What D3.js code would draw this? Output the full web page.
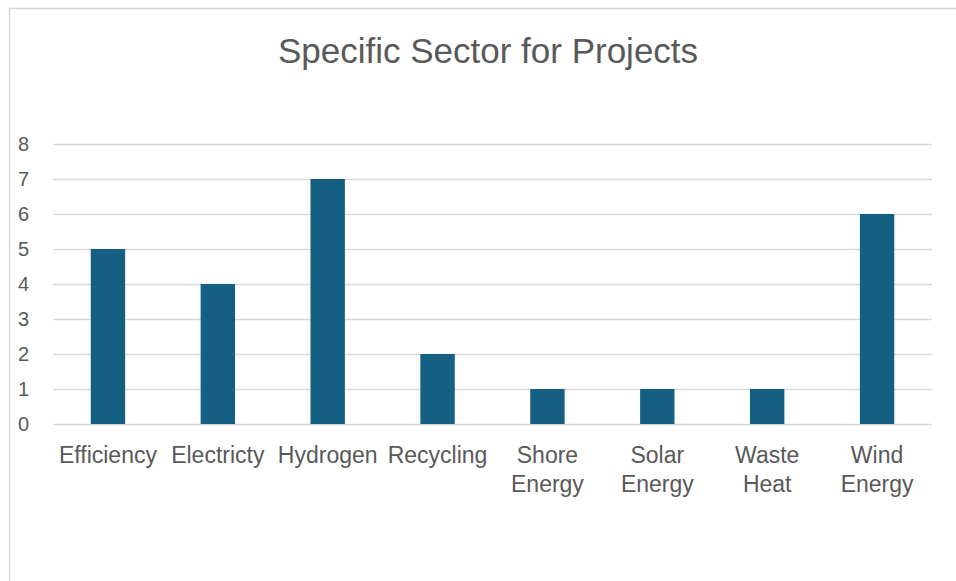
<!DOCTYPE html>
<html>
<head>
<meta charset="utf-8">
<script src="https://cdn.jsdelivr.net/npm/d3@7"></script>
<style>
  body { margin: 0; background: #fff; }
  text { font-family: "Liberation Sans", Arial, sans-serif; fill: #595959; }
</style>
</head>
<body>
<div id="chart"></div>
<script>
// data
const categories = ["Efficiency", "Electricty", "Hydrogen", "Recycling", "Shore Energy", "Solar Energy", "Waste Heat", "Wind Energy"];
const values = [5, 4, 7, 2, 1, 1, 1, 6];
const yTicks = [0, 1, 2, 3, 4, 5, 6, 7, 8];
const title = "Specific Sector for Projects";

const W = 956, H = 581;
const margin = { top: 144, right: 24, bottom: 157, left: 53 };
const width = W - margin.left - margin.right,
      height = H - margin.top - margin.bottom;
const font = "'Liberation Sans', Arial, sans-serif";

const svg = d3.select("#chart").append("svg")
    .attr("width", W)
    .attr("height", H);

// chart area frame (runs off the right and bottom edges)
svg.append("rect")
    .attr("x", 9.5).attr("y", 8.5)
    .attr("width", 1000).attr("height", 1000)
    .attr("fill", "none")
    .attr("stroke", "#d9d9d9")
    .attr("stroke-width", 1.5);

svg.append("text")
    .attr("x", 488).attr("y", 63)
    .attr("text-anchor", "middle")
    .style("font-size", "35px")
    .text(title);

const g = svg.append("g")
    .attr("transform", "translate(" + margin.left + "," + margin.top + ")");

const x = d3.scaleBand()
    .domain(categories)
    .range([0, width])
    .paddingInner(0.687)
    .paddingOuter(0.3435);

const y = d3.scaleLinear()
    .domain([0, 8])
    .range([height, 0]);

// gridlines + y labels
const yAxis = g.append("g")
    .call(d3.axisLeft(y).tickValues(yTicks).tickSize(-width).tickPadding(24).tickFormat(d3.format("d")));
yAxis.select(".domain").remove();
yAxis.selectAll(".tick line").attr("stroke", "#d9d9d9").attr("stroke-width", 1.5);
yAxis.selectAll(".tick text")
    .attr("fill", "#595959")
    .style("font-size", "20px")
    .style("font-family", font);

// bars
g.selectAll(".bar")
    .data(categories)
    .enter()
    .append("rect")
    .attr("class", "bar")
    .attr("x", d => x(d))
    .attr("width", x.bandwidth())
    .attr("y", (d, i) => y(values[i]))
    .attr("height", (d, i) => height - y(values[i]))
    .attr("fill", "#156082");

// category labels, wrapped like excel does
const xAxis = g.append("g")
    .attr("transform", "translate(0," + height + ")")
    .call(d3.axisBottom(x).tickSize(0).tickPadding(0));
xAxis.select(".domain").remove();
xAxis.selectAll(".tick text")
    .attr("fill", "#595959")
    .style("font-size", "23px")
    .style("font-family", font)
    .each(function(d) {
        const t = d3.select(this);
        t.text(null).attr("y", 0).attr("dy", null);
        const step = x.step();
        // try the full label first
        const test = t.append("tspan").text(d);
        let lines = [d];
        if (test.node().getComputedTextLength() > step - 4) lines = d.split(" ");
        test.remove();
        lines.forEach((line, i) => {
            t.append("tspan")
                .attr("x", 0)
                .attr("y", 39 + i * 29)
                .text(line);
        });
    });
</script>
</body>
</html>
